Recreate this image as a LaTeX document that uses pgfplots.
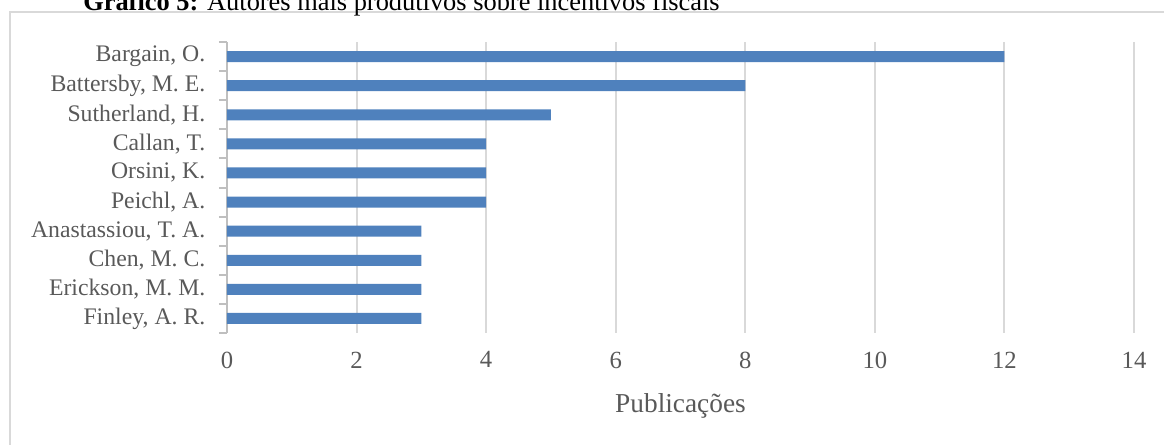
\documentclass[border=0pt]{standalone}
\usepackage{fontspec}
\setmainfont{Liberation Serif}
\usepackage{pgfplots}
\pgfplotsset{compat=1.18}
\definecolor{barc}{HTML}{4F81BD}
\definecolor{txt}{HTML}{595959}
\definecolor{grd}{HTML}{D9D9D9}
\definecolor{axl}{HTML}{BFBFBF}
\begin{document}
\begin{tikzpicture}[x=0.75pt,y=0.75pt]
\useasboundingbox (0,0) rectangle (1164,444);
\begin{scope}
\clip (0,0) rectangle (1164,444);
\draw[grd, line width=1.5pt] (9.5,-20) -- (9.5,431.5) -- (1180,431.5);
\node[anchor=base west, inner sep=0, font=\fontsize{19.8}{22}\selectfont, text=black] at (83,433) {\textbf{Gráfico 5:} Autores mais produtivos sobre incentivos fiscais};
\end{scope}
\begin{axis}[at={(170.25pt,83.25pt)}, anchor=south west, scale only axis,
  width=680.25pt, height=218.25pt,
  xmin=0, xmax=14, ymin=-0.5, ymax=9.5, y dir=reverse,
  xbar, bar width=8.25pt,
  xtick={0,2,...,14}, ytick={0,...,9},
  yticklabels={{Bargain, O.},{Battersby, M. E.},{Sutherland, H.},{Callan, T.},{Orsini, K.},{Peichl, A.},{Anastassiou, T. A.},{Chen, M. C.},{Erickson, M. M.},{Finley, A. R.}},
  xmajorgrids, grid style={grd, line width=1.5pt},
  axis y line*=left, axis x line*=bottom,
  x axis line style={draw=none},
  y axis line style={axl, line width=1.5pt, -},
  major tick length=0pt,
  tick style={draw=axl, line width=1.5pt},
  extra y ticks={-0.5,0.5,...,9.5}, extra y tick labels={},
  extra y tick style={major tick length=6pt, tick align=outside, grid=none},
  ticklabel style={text=txt, font=\fontsize{17.8}{20}\selectfont},
  yticklabel style={xshift=-12.75pt},
  xticklabel style={yshift=-10.5pt, font=\fontsize{18.5}{20}\selectfont},
  /pgf/number format/assume math mode=true,
  xlabel={Publicações},
  xlabel style={at={(axis description cs:0.5,0)}, anchor=base, yshift=-59.25pt, font=\fontsize{20.5}{22}\selectfont, text=txt},
  clip=false]
\addplot[fill=barc, draw=none] coordinates {(12,0) (8,1) (5,2) (4,3) (4,4) (4,5) (3,6) (3,7) (3,8) (3,9)};
\end{axis}
\end{tikzpicture}
\end{document}
